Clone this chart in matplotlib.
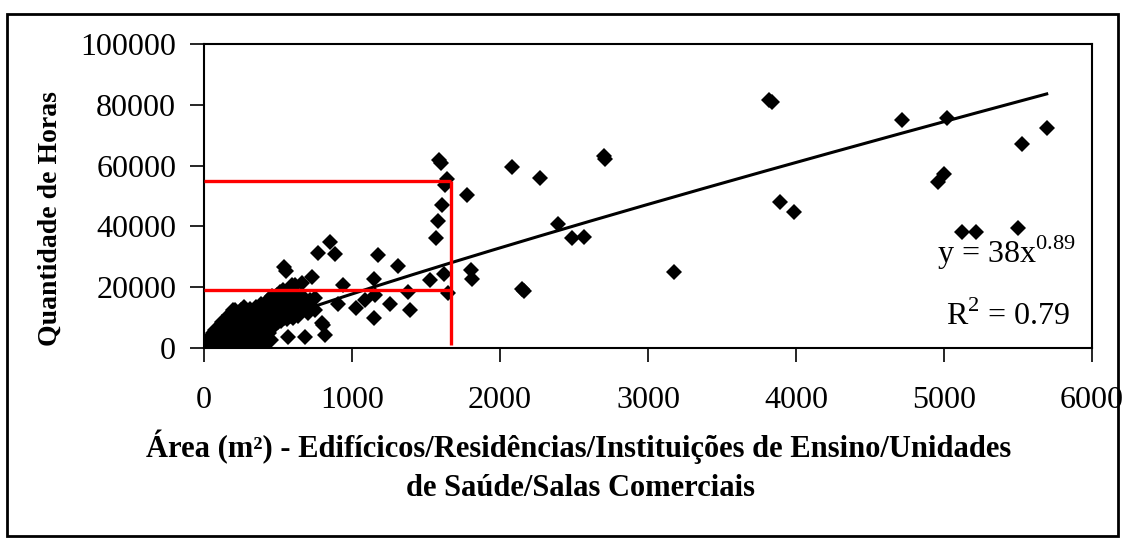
import matplotlib
matplotlib.use("Agg")
import matplotlib.pyplot as plt
from matplotlib.patches import Rectangle
import numpy as np

plt.rcParams["font.family"] = ["Liberation Serif", "DejaVu Serif"]
plt.rcParams["mathtext.fontset"] = "custom"
plt.rcParams["mathtext.rm"] = "Liberation Serif"

# Small buildings (dense group near the origin): area in m², hours
area_small = [
    15, 22, 28,
    35, 42, 38, 45,
    55, 62, 58, 66, 60,
    78, 84, 80, 86, 76,
    98, 104, 100, 108, 95, 102,
    118, 124, 120, 128, 116, 122,
    138, 144, 140, 146, 136, 142, 148,
    158, 164, 160, 166, 156, 162, 168,
    178, 184, 180, 186, 176, 182, 188,
    198, 204, 200, 206, 196, 202, 198,
    218, 224, 220, 226, 216, 222, 209,
    238, 244, 240, 246, 236, 242, 248,
    258, 264, 260, 266, 256, 262, 266, 272,
    278, 284, 280, 286, 276, 282,
    298, 304, 300, 306, 296, 302, 308,
    318, 324, 320, 326, 316, 322,
    338, 344, 340, 346, 336, 342, 348,
    358, 364, 360, 366, 356, 362,
    378, 384, 380, 386, 376, 382, 388,
    398, 404, 400, 406, 396, 402, 408,
    418, 424, 420, 426, 416, 422,
    438, 444, 440, 446, 436, 442,
    458, 464, 460, 466, 456, 462,
    478, 484, 480, 486, 476,
    498, 504, 500, 506, 496,
    518, 524, 520, 526, 516,
    538, 544, 540, 546, 536,
    558, 564, 560, 566,
    578, 584, 580, 586,
    598, 604, 600, 606, 596,
    618, 624, 620,
    638, 644, 640,
    658, 664, 660,
]
hours_small = [
    300, 1000, 2000,
    500, 1500, 2800, 3800,
    400, 1200, 2400, 3500, 4800,
    800, 2000, 3200, 4500, 6000,
    500, 1500, 3000, 4200, 5500, 7000,
    1000, 2500, 4000, 5500, 7200, 8500,
    600, 2000, 3500, 5000, 6500, 8000, 9500,
    1200, 3000, 4500, 6200, 7800, 9500, 11000,
    800, 2200, 4000, 5500, 7000, 8800, 10200,
    1500, 3200, 5000, 6800, 8500, 10500, 12500,
    700, 2500, 4500, 6000, 7800, 9500, 12500,
    1200, 3500, 5200, 7200, 9000, 11000, 12500,
    900, 2800, 4800, 6500, 8500, 10200, 12000, 13600,
    1500, 4000, 6000, 7800, 9800, 11500,
    1000, 3000, 5500, 7200, 9200, 11000, 12800,
    2000, 4500, 6500, 8500, 10500, 12200,
    1200, 3500, 5800, 7800, 9800, 11800, 13500,
    2500, 5000, 7000, 9000, 11000, 13000,
    1500, 4000, 6500, 8500, 10500, 12500, 14500,
    800, 2500, 5000, 7500, 9500, 11500, 13500,
    3000, 6000, 8500, 10500, 12500, 14500,
    5000, 7500, 10000, 12000, 14000, 16000,
    6500, 9000, 11000, 13000, 15000, 17000,
    8000, 10000, 12000, 14500, 16500,
    8500, 10500, 13000, 15500, 17500,
    9000, 11500, 14000, 16000, 18500,
    10000, 12000, 14500, 17000, 19000,
    9500, 12500, 15000, 17500,
    10500, 13000, 15500, 18000,
    10000, 12500, 15000, 17500, 19500,
    11500, 14000, 16500,
    10500, 13000, 15500,
    12000, 14500, 17000,
]

# Larger buildings: area in m², hours
area_large = [
    1590, 1600, 1640, 1630, 1775, 1606, 1580, 1566,
    851, 773, 885, 1173, 543, 555, 1309, 728, 1620, 1804, 1809, 1527,
    1149, 941, 1381, 1646, 1155, 1088, 1257, 1392, 1030, 907, 1149, 806,
    818, 682, 565, 453,
    592, 660, 615, 705, 716, 750, 750, 795,
    2079, 2270, 2700, 2710, 2390, 2484, 2570, 2150, 2165, 3176, 3892, 3986,
    3820, 3835,
    4718, 5018, 5694, 5525, 5002, 4957, 5124, 5216, 5502,
]
hours_large = [
    61800, 60800, 55500, 53500, 50300, 47000, 41800, 36100,
    35000, 31200, 30900, 30500, 26500, 25200, 27000, 23300, 24200, 25700, 22600, 22400,
    22600, 20700, 18500, 18000, 17400, 15800, 14600, 12600, 13100, 14400, 9800, 7600,
    4300, 3700, 3700, 2600,
    20700, 21300, 20700, 11400, 15800, 16300, 12500, 8100,
    59600, 55800, 63000, 62200, 40800, 36100, 36600, 19500, 18900, 24900, 48100, 44800,
    81600, 80900,
    75000, 75800, 72300, 67100, 57200, 54500, 38100, 38100, 39600,
]

# Power-law trend y = a * x^b
fit_a = 38
fit_b = 0.89
fit_r2 = 0.79

# Reading guides (red)
guide_area = 1670
guide_hours_high = 55000
guide_hours_low = 19000
guide_floor = 1000

x_ticks = [0, 1000, 2000, 3000, 4000, 5000, 6000]
y_ticks = [0, 20000, 40000, 60000, 80000, 100000]

W, H = 1125, 541
fig = plt.figure(figsize=(W / 100, H / 100), dpi=100)
fig.patch.set_facecolor("white")

left, right, top, bottom = 204, 1092, 44, 348
ax = fig.add_axes([left / W, 1 - bottom / H, (right - left) / W, (bottom - top) / H])

area = np.array(area_small + area_large, dtype=float)
hours = np.array(hours_small + hours_large, dtype=float)

ax.plot(area, hours, linestyle="none", marker="D", markersize=8.5,
        color="black", markeredgewidth=0, zorder=3)

xx = np.linspace(area.min(), area.max(), 400)
ax.plot(xx, fit_a * xx ** fit_b, color="black", linewidth=2.2, zorder=4)

red_kw = dict(color="#ff0000", linewidth=2.4, zorder=5, solid_capstyle="butt")
ax.plot([0, guide_area], [guide_hours_high, guide_hours_high], **red_kw)
ax.plot([0, guide_area], [guide_hours_low, guide_hours_low], **red_kw)
ax.plot([guide_area, guide_area], [guide_hours_high, guide_floor], **red_kw)

ax.set_xlim(0, 6000)
ax.set_ylim(0, 100000)
ax.set_xticks(x_ticks)
ax.set_yticks(y_ticks)
ax.set_xticklabels([str(t) for t in x_ticks])
ax.set_yticklabels([str(t) for t in y_ticks])

for s in ax.spines.values():
    s.set_linewidth(1.5)
    s.set_color("black")

ax.tick_params(axis="both", direction="out", length=10, width=1.2,
               labelsize=23, colors="black")
ax.tick_params(axis="x", pad=17)
ax.tick_params(axis="y", pad=10)

fig.text(50 / W, 1 - 219 / H, "Quantidade de Horas", rotation=90,
         ha="center", va="center", fontsize=20, fontweight="bold")

fig.text(579 / W, 1 - 447 / H,
         "Área (m²) - Edifícicos/Residências/Instituições de Ensino/Unidades",
         ha="center", va="center", fontsize=22, fontweight="bold")
fig.text(580 / W, 1 - 488 / H, "de Saúde/Salas Comerciais",
         ha="center", va="center", fontsize=22, fontweight="bold")

fig.text(1076 / W, 1 - 263 / H, r"y = %gx$^{%g}$" % (fit_a, fit_b),
         ha="right", va="baseline", fontsize=23)
fig.text(1070 / W, 1 - 325 / H, r"R$^{2}$ = %g" % fit_r2,
         ha="right", va="baseline", fontsize=23)

fig.add_artist(Rectangle((7 / W, 1 - 536 / H), (1118 - 7) / W, (536 - 14) / H,
                         transform=fig.transFigure, fill=False,
                         edgecolor="black", linewidth=2))

fig.savefig("out.png", dpi=100, facecolor="white")
